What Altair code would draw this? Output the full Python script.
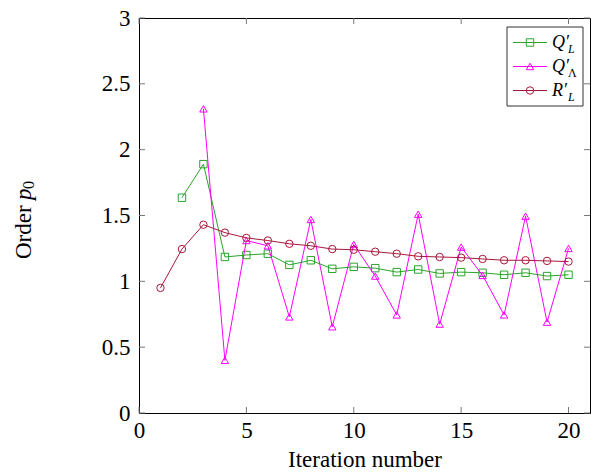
import altair as alt
import pandas as pd

iters = list(range(1, 21))
q_L = [None, 1.635, 1.89, 1.185, 1.20, 1.21, 1.125, 1.16, 1.095, 1.11,
       1.10, 1.07, 1.09, 1.06, 1.07, 1.065, 1.05, 1.065, 1.04, 1.05]
q_Lam = [None, None, 2.31, 0.40, 1.31, 1.27, 0.73, 1.47, 0.655, 1.28,
         1.04, 0.745, 1.51, 0.675, 1.26, 1.045, 0.745, 1.495, 0.69, 1.25]
r_L = [0.95, 1.245, 1.43, 1.37, 1.33, 1.31, 1.285, 1.27, 1.245, 1.24,
       1.225, 1.21, 1.19, 1.185, 1.18, 1.17, 1.16, 1.16, 1.155, 1.15]

series_names = ["QL", "QLam", "RL"]
series_values = [q_L, q_Lam, r_L]
colors = ["#2aa52a", "#ff00ff", "#a8173a"]
shapes = ["square", "triangle-up", "circle"]
legend_main = ["Q′", "Q′", "R′"]
legend_sub = ["L", "Λ", "L"]

x_ticks = [0, 5, 10, 15, 20]
y_ticks = [0, 0.5, 1, 1.5, 2, 2.5, 3]

W, H = 451, 395
FONT = "Liberation Serif"
FS = 23

xs = alt.Scale(domain=[0, 21], nice=False)
ys = alt.Scale(domain=[0, 3], nice=False)

x_axis = alt.Axis(values=x_ticks, title="Iteration number", grid=False, ticks=False,
                  domain=False, labelFont=FONT, labelFontSize=FS, labelPadding=6,
                  labelColor="black", titleFont=FONT, titleFontSize=FS,
                  titleFontWeight="normal", titleColor="black", titlePadding=6,
                  labelFlush=False, labelOverlap=False, format="~g")
y_axis = alt.Axis(values=y_ticks, title="", grid=False, ticks=False,
                  domain=False, labelFont=FONT, labelFontSize=FS, labelPadding=9,
                  labelColor="black", labelFlush=False, labelOverlap=False,
                  labelBaseline="middle", format="~g")

X = alt.X("x:Q", scale=xs, axis=x_axis)
Y = alt.Y("y:Q", scale=ys, axis=y_axis)

layers = []
for name, vals, col, shp in zip(series_names, series_values, colors, shapes):
    df = pd.DataFrame({"x": iters, "y": vals}).dropna()
    line = alt.Chart(df).mark_line(color=col, strokeWidth=1).encode(x=X, y=Y)
    pts = alt.Chart(df).mark_point(color=col, shape=shp, filled=False, size=55,
                                   strokeWidth=1, opacity=1).encode(x=X, y=Y)
    layers += [line, pts]

# inward ticks
xt = pd.DataFrame({"x": x_ticks})
yt = pd.DataFrame({"y": y_ticks})
tick_col = "#777777"
layers.append(alt.Chart(xt).mark_rule(color=tick_col, strokeWidth=1).encode(
    x=X, y=alt.value(H), y2=alt.value(H - 6)))
layers.append(alt.Chart(xt).mark_rule(color=tick_col, strokeWidth=1).encode(
    x=X, y=alt.value(0), y2=alt.value(6)))
layers.append(alt.Chart(yt).mark_rule(color=tick_col, strokeWidth=1).encode(
    y=Y, x=alt.value(0), x2=alt.value(6)))
layers.append(alt.Chart(yt).mark_rule(color=tick_col, strokeWidth=1).encode(
    y=Y, x=alt.value(W), x2=alt.value(W - 6)))

# y-axis title: "Order p_0" with italic p and subscript 0
one = pd.DataFrame({"a": [0]})
ty0 = 241
layers.append(alt.Chart(one).mark_text(text="Order", font=FONT, fontSize=FS, angle=270,
                                       align="left", baseline="middle", color="black").encode(
    x=alt.value(-115), y=alt.value(ty0)))
layers.append(alt.Chart(one).mark_text(text="p", font=FONT, fontSize=FS, angle=270,
                                       fontStyle="italic", align="left", baseline="middle",
                                       color="black").encode(
    x=alt.value(-115), y=alt.value(ty0 - 59)))
layers.append(alt.Chart(one).mark_text(text="0", font=FONT, fontSize=16, angle=270,
                                       align="left", baseline="middle", color="black").encode(
    x=alt.value(-110), y=alt.value(ty0 - 70)))

# custom legend
lx0, ly0 = 368, 9
legend_box = alt.Chart(one).mark_rect(
    fill="white", stroke="#333333", strokeWidth=1).encode(
    x=alt.value(lx0), x2=alt.value(lx0 + 76), y=alt.value(ly0), y2=alt.value(ly0 + 79))
layers.append(legend_box)
for i, (col, shp, mtxt, stxt) in enumerate(zip(colors, shapes, legend_main, legend_sub)):
    yy = ly0 + 15.5 + i * 24
    layers.append(alt.Chart(one).mark_rule(color=col, strokeWidth=1).encode(
        x=alt.value(lx0 + 6), x2=alt.value(lx0 + 40), y=alt.value(yy)))
    layers.append(alt.Chart(one).mark_point(color=col, shape=shp, filled=False, size=55,
                                            strokeWidth=1, opacity=1).encode(
        x=alt.value(lx0 + 23), y=alt.value(yy)))
    layers.append(alt.Chart(one).mark_text(text=mtxt, font=FONT, fontSize=18, fontStyle="italic",
                                           align="left", baseline="alphabetic", color="black").encode(
        x=alt.value(lx0 + 45), y=alt.value(yy + 5)))
    layers.append(alt.Chart(one).mark_text(text=stxt, font=FONT, fontSize=12,
                                           fontStyle=("normal" if stxt == "Λ" else "italic"),
                                           align="left", baseline="alphabetic", color="black").encode(
        x=alt.value(lx0 + 61), y=alt.value(yy + 10)))

chart = alt.layer(*layers).properties(
    width=W, height=H,
    autosize=alt.AutoSizeParams(type="none"),
    padding={"left": 139, "top": 18, "right": 1, "bottom": 60},
).configure_view(stroke="black", strokeWidth=1)

chart.save("out.html", embed_options={"renderer": "svg", "actions": False})
